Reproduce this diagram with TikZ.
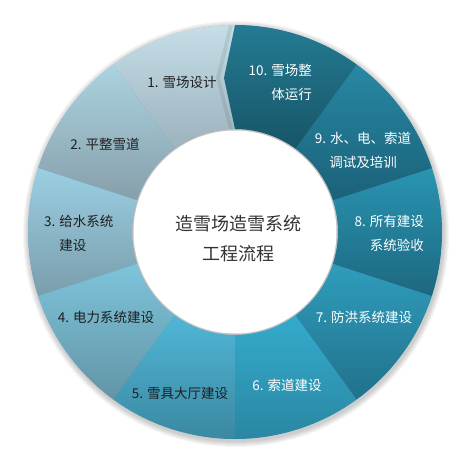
\documentclass[tikz,border=0pt]{standalone}
\usepackage{fontspec}
\setmainfont{Noto Sans CJK SC}
\begin{document}
\begin{tikzpicture}[x=1pt,y=1pt,
  lbl/.style={font=\fontsize{13.5}{24}\selectfont, inner sep=0pt},
  dark/.style={lbl, text=black!88},
  light/.style={lbl, text=white},
  ctr/.style={font=\fontsize{18}{30}\selectfont, text=black!80, align=center, inner sep=0pt}]
\def\Ro{207}
\def\Ri{103}
\useasboundingbox (-235,-233) rectangle (235,232);
% soft outer shadow
\foreach \k in {1,...,6}{
  \fill[black, opacity=0.035] (1,-2) circle[radius=\Ro+\k];
}
% underlay to hide seams between segments
\fill[color={rgb,255:red,80;green,145;blue,168}, even odd rule] (0,0) circle[radius=\Ro-0.3] (0,0) circle[radius=\Ri+0.3];
% segments
\definecolor{tA}{HTML}{C5DEE7}\definecolor{bA}{HTML}{9CB2BD}
\definecolor{tB}{HTML}{ABD3E1}\definecolor{bB}{HTML}{869FAA}
\definecolor{tC}{HTML}{9BCFE3}\definecolor{bC}{HTML}{7A9DAB}
\definecolor{tD}{HTML}{7DC4DB}\definecolor{bD}{HTML}{6394A6}
\definecolor{tE}{HTML}{50B6D6}\definecolor{bE}{HTML}{3B88A2}
\definecolor{tF}{HTML}{34ABCC}\definecolor{bF}{HTML}{2A87A3}
\definecolor{tG}{HTML}{2F9DBC}\definecolor{bG}{HTML}{21718B}
\definecolor{tH}{HTML}{2994B2}\definecolor{bH}{HTML}{1D687F}
\definecolor{tI}{HTML}{2788A3}\definecolor{bI}{HTML}{1B6179}
\definecolor{tJ}{HTML}{237B93}\definecolor{bJ}{HTML}{185567}
\foreach \a/\c in {90/A,126/B,162/C,198/D,234/E,270/F,306/G,342/H,18/I}{
  \pgfmathsetmacro{\b}{\a+36}
  \shade[top color=t\c, bottom color=b\c]
    (\a:\Ro) arc[start angle=\a, end angle=\b, radius=\Ro]
    -- (\b:\Ri) arc[start angle=\b, end angle=\a, radius=\Ri] -- cycle;
}
% faint shadow cast by segment 10 onto segment 1, kept inside the ring
\begin{scope}
  \clip (90:\Ro) arc[start angle=90, end angle=126, radius=\Ro]
    -- (126:\Ri) arc[start angle=126, end angle=90, radius=\Ri] -- cycle;
  \fill[black, opacity=0.08] (0,215) -- (-15,154) -- (0,95) -- (-4,95) -- (-19,154) -- (-4,215) -- cycle;
\end{scope}
% segment 10 with a pointed left edge
\shade[top color=tJ, bottom color=bJ]
  (54:\Ro) arc[start angle=54, end angle=90, radius=\Ro]
  -- (-11,154) -- (90:\Ri)
  arc[start angle=90, end angle=54, radius=\Ri] -- cycle;
% inner white disc
\fill[black, opacity=0.06] (0,0) circle[radius=\Ri];
\fill[white] (0,0) circle[radius=\Ri-1.5];
% labels
\node[dark] (s1) at (-53,150) {1. 雪场设计};
\node[dark] (s2) at (-130,88) {2. 平整雪道};
\node[dark, align=left, anchor=west] (s3) at (-191,-1) {3. 给水系统\\\hphantom{3. }建设};
\node[dark] (s4) at (-129,-85) {4. 电力系统建设};
\node[dark] (s5) at (-55,-161) {5. 雪具大厅建设};
\node[light] (s6) at (52,-153) {6. 索道建设};
\node[light] (s7) at (129,-85) {7. 防洪系统建设};
\node[light, align=right, anchor=east] (s8) at (189,-1) {8. 所有建设\\系统验收};
\node[light, align=center] (s9) at (128,82) {9. 水、电、索道\\调试及培训};
\node[light, align=right, anchor=east] (s10) at (77,150) {10. 雪场整\\体运行};
\node[ctr] (c) at (3,-7) {造雪场造雪系统\\工程流程};
\end{tikzpicture}
\end{document}
